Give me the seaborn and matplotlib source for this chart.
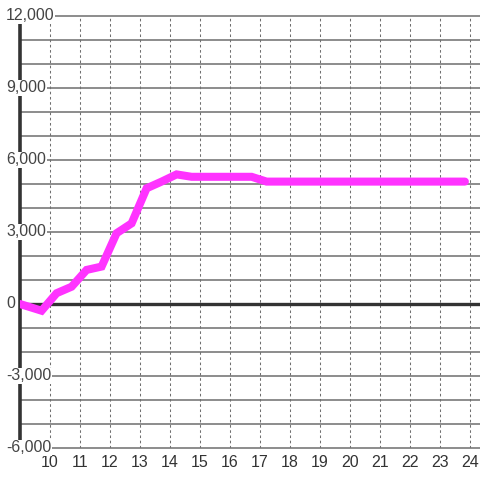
import matplotlib
matplotlib.use("Agg")
import matplotlib.pyplot as plt
import seaborn as sns
import pandas as pd

# data
hours = [9.0, 9.72, 10.22, 10.72, 11.22, 11.72, 12.22, 12.72, 13.22, 13.72,
         14.22, 14.72, 15.22, 15.72, 16.22, 16.72, 17.22, 17.72, 18.22, 18.72,
         19.22, 19.72, 20.22, 20.72, 21.22, 21.72, 22.22, 22.72, 23.22, 23.83]
values = [0, -280, 450, 720, 1420, 1560, 2950, 3360, 4820, 5100,
          5400, 5300, 5300, 5300, 5300, 5300, 5100, 5100, 5100, 5100,
          5100, 5100, 5100, 5100, 5100, 5100, 5100, 5100, 5100, 5100]
x_ticks = list(range(10, 25))
y_labels = [12000, 9000, 6000, 3000, 0, -3000, -6000]

df = pd.DataFrame({"hour": hours, "value": values})

sns.set_style("white")
plt.rcParams["font.family"] = ["Liberation Sans", "DejaVu Sans"]

fig = plt.figure(figsize=(4.8, 4.8), dpi=100)
ax = fig.add_axes([20 / 480, 32 / 480, 460 / 480, 432 / 480])
ax.set_xlim(9, 9 + 460 / 30)
ax.set_ylim(-6000, 12000)

for s in ax.spines.values():
    s.set_visible(False)

# horizontal grid every 1000
for yv in range(-6000, 12001, 1000):
    ax.axhline(yv, color="#6e6e6e", lw=1.1, zorder=1, clip_on=False)

# vertical dotted grid
for xv in x_ticks:
    ax.axvline(xv, color="#707070", lw=0.75, linestyle=(0, (2.5, 2.5)), zorder=1)

ax.axhline(0, color="#333333", lw=2.4, zorder=2)
ax.axvline(9, color="#333333", lw=2.6, zorder=2, clip_on=False)

sns.lineplot(data=df, x="hour", y="value", ax=ax, color="#ff33ff",
             lw=5.8, zorder=3, solid_joinstyle="miter")

ax.set_xticks(x_ticks)
ax.set_xticklabels([str(t) for t in x_ticks])
ax.set_yticks([])
ax.tick_params(axis="x", length=0, pad=5, labelsize=11.5, labelcolor="#333333")
ax.set_xlabel("")
ax.set_ylabel("")

trans = ax.get_yaxis_transform()
for yv in y_labels:
    ax.text(-14 / 460, yv, f"{yv:,}", transform=trans, ha="left", va="center",
            fontsize=11.5, color="#444444", zorder=5, clip_on=False,
            bbox=dict(boxstyle="square,pad=0.05", fc="white", ec="none"))

fig.savefig("out.png", dpi=100)
